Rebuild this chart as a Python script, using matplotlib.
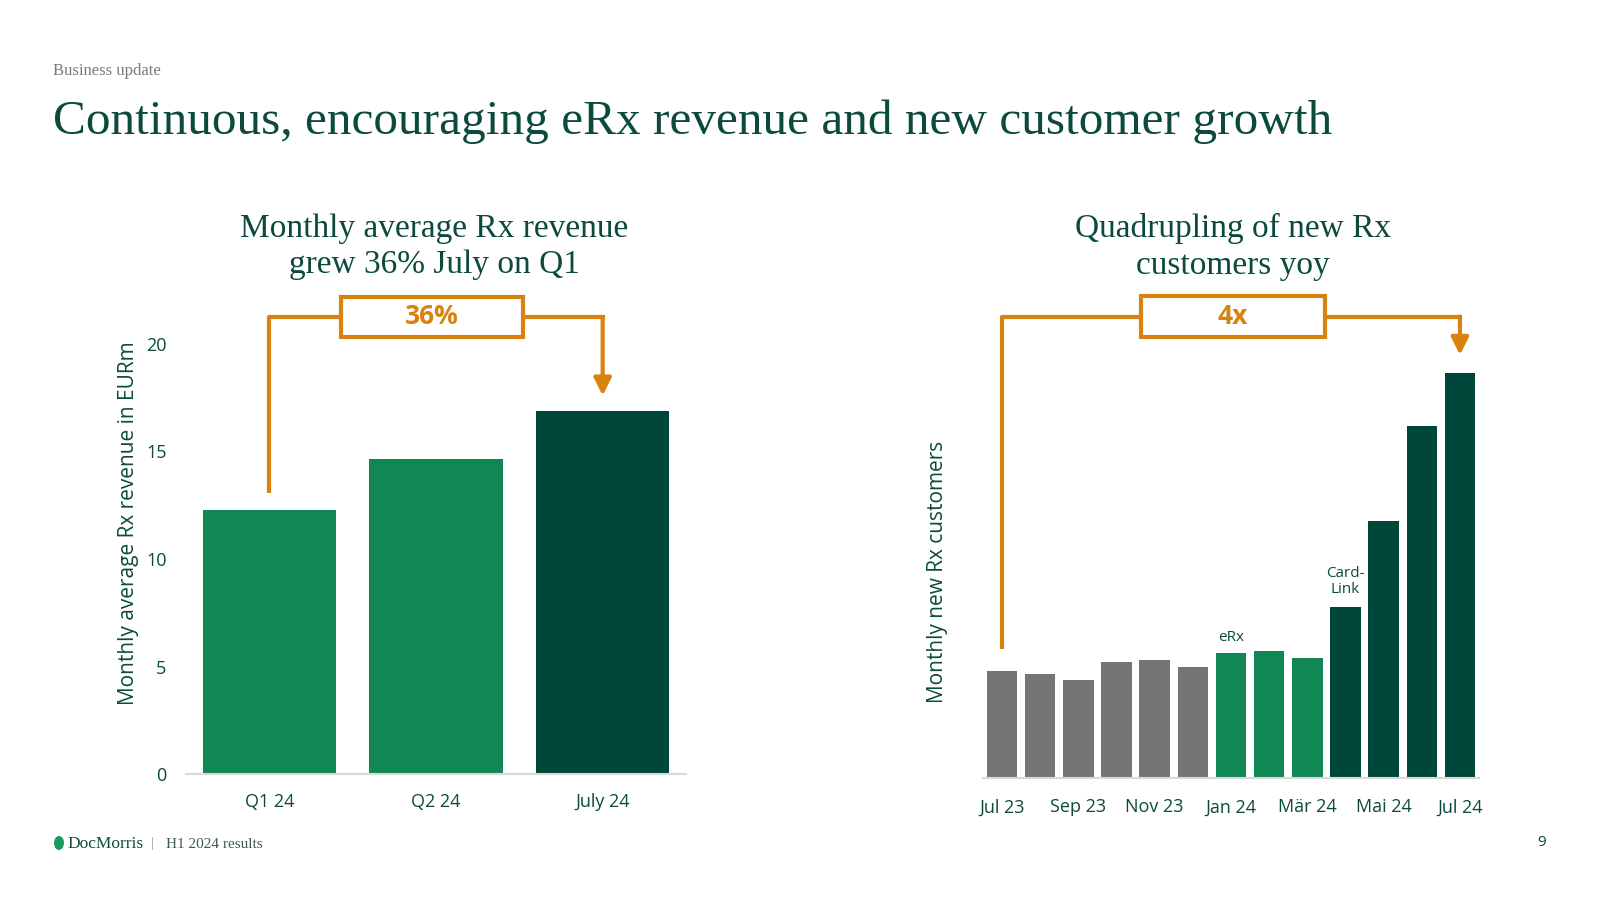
import matplotlib
matplotlib.use("Agg")
import matplotlib.pyplot as plt
from matplotlib.patches import Rectangle, Ellipse

# data
rev_labels = ["Q1 24", "Q2 24", "July 24"]
rev_values = [12.3, 14.65, 16.9]
rev_colors = ["#128756", "#128756", "#00473b"]

months = ["Jul 23", "Aug 23", "Sep 23", "Okt 23", "Nov 23", "Dez 23", "Jan 24",
          "Feb 24", "Mär 24", "Apr 24", "Mai 24", "Jun 24", "Jul 24"]
new_customers = [100, 97, 91, 108, 110, 104, 117, 119, 112, 160, 240, 329, 379]
cust_colors = ["#757575"] * 6 + ["#128756"] * 3 + ["#00473b"] * 4
month_ticks = ["Jul 23", "Sep 23", "Nov 23", "Jan 24", "Mär 24", "Mai 24", "Jul 24"]

DARK = "#0b4a3c"
ORANGE = "#d8830f"
SANS = ["Open Sans", "DejaVu Sans"]
SERIF = ["Liberation Serif", "DejaVu Serif"]

W, H = 1600, 900
fig = plt.figure(figsize=(16, 9), dpi=100)


def box(x0, y0, x1, y1):
    # pixel box (top-left origin) -> figure fraction rect
    return [x0 / W, 1 - y1 / H, (x1 - x0) / W, (y1 - y0) / H]


def style_axis(ax):
    for s in ["top", "right", "left"]:
        ax.spines[s].set_visible(False)
    ax.spines["bottom"].set_color("#d9d9d9")
    ax.spines["bottom"].set_linewidth(1.5)
    ax.tick_params(length=0, colors=DARK, labelsize=13)
    for lab in ax.get_xticklabels() + ax.get_yticklabels():
        lab.set_family(SANS)


def bracket(ax, x_start, y_start, x_end, y_end, y_top, bx, bw, by0, by1, label):
    ax.plot([x_start, x_start, bx - bw / 2], [y_start, y_top, y_top],
            color=ORANGE, lw=3, clip_on=False, solid_capstyle="butt")
    ax.plot([bx + bw / 2, x_end], [y_top, y_top], color=ORANGE, lw=3, clip_on=False)
    ax.annotate("", xy=(x_end, y_end), xytext=(x_end, y_top),
                arrowprops=dict(arrowstyle="-|>", color=ORANGE, lw=3,
                                mutation_scale=26, shrinkA=0, shrinkB=0),
                annotation_clip=False)
    ax.add_patch(Rectangle((bx - bw / 2, by0), bw, by1 - by0, facecolor="white",
                           edgecolor=ORANGE, lw=3, clip_on=False, zorder=5))
    ax.text(bx, (by0 + by1) / 2, label, ha="center", va="center", color=ORANGE,
            fontsize=19, fontweight="bold", family=SANS, zorder=6)


# left chart
ax1 = fig.add_axes(box(186, 344, 686, 774))
x1 = range(len(rev_values))
ax1.bar(x1, rev_values, width=0.8, color=rev_colors)
ax1.set_xlim(-0.5, 2.5)
ax1.set_ylim(0, 20)
ax1.set_yticks([0, 5, 10, 15, 20])
ax1.set_xticks(list(x1))
ax1.set_xticklabels(rev_labels)
style_axis(ax1)
ax1.tick_params(axis="y", pad=14)
ax1.tick_params(axis="x", pad=14)
ax1.set_ylabel("Monthly average Rx revenue in EURm", color=DARK, fontsize=15,
               family=SANS)
ax1.yaxis.set_label_coords(-0.094, 0.583)
bracket(ax1, 0, rev_values[0] + 0.75, 2, rev_values[2] + 0.7, 21.25,
        0.975, 1.09, 20.33, 22.19, "36%")

# right chart
ax2 = fig.add_axes(box(983, 347.5, 1479, 777.5))
x2 = range(len(new_customers))
ax2.bar(x2, new_customers, width=0.8, color=cust_colors)
ax2.set_xlim(-0.5, 12.5)
ax2.set_ylim(0, 403)
ax2.set_yticks([])
ax2.set_xticks(list(x2)[::2])
ax2.set_xticklabels(month_ticks)
style_axis(ax2)
ax2.tick_params(axis="x", pad=15)
ax2.set_ylabel("Monthly new Rx customers", color=DARK, fontsize=15, family=SANS)
ax2.yaxis.set_label_coords(-0.071, 0.478)
ax2.text(6, new_customers[6] + 7, "eRx", ha="center", va="bottom",
         color=DARK, fontsize=11, family=SANS)
ax2.text(9, new_customers[9] + 9, "Card-\nLink", ha="center", va="bottom",
         color=DARK, fontsize=11, family=SANS, linespacing=1.1)
bracket(ax2, 0, new_customers[0] + 20, 12, new_customers[12] + 17, 432,
        6.05, 4.82, 413, 451, "4x")

# titles and slide text
fig.text(53 / W, 1 - 71 / H, "Business update", color="#7a7a7a", fontsize=12,
         family=SERIF, va="center")
fig.text(53 / W, 1 - 122 / H, "Continuous, encouraging eRx revenue and new customer growth",
         color=DARK, fontsize=35.5, family=SERIF, va="center")
fig.text(434 / W, 1 - 247 / H, "Monthly average Rx revenue\ngrew 36% July on Q1",
         color=DARK, fontsize=24, family=SERIF, ha="center", va="center",
         linespacing=1.25)
fig.text(1233 / W, 1 - 247 / H, "Quadrupling of new Rx\ncustomers yoy",
         color=DARK, fontsize=24, family=SERIF, ha="center", va="center",
         linespacing=1.25)

# footer
fig.patches.append(Ellipse((59 / W, 1 - 843 / H), 10 / W, 14 / H,
                           transform=fig.transFigure, facecolor="#1a9a5c",
                           edgecolor="none"))
fig.text(67 / W, 1 - 844 / H, "DocMorris", color=DARK, fontsize=12.5,
         family=SERIF, va="center")
fig.text(151 / W, 1 - 844 / H, "|", color="#999999", fontsize=11,
         family=SERIF, va="center")
fig.text(166 / W, 1 - 844 / H, "H1 2024 results", color="#3d5a52", fontsize=11,
         family=SERIF, va="center")
fig.text(1542 / W, 1 - 842 / H, "9", color=DARK, fontsize=11,
         family=SANS, va="center", ha="center")

fig.savefig("out.png", dpi=100, facecolor="white")
